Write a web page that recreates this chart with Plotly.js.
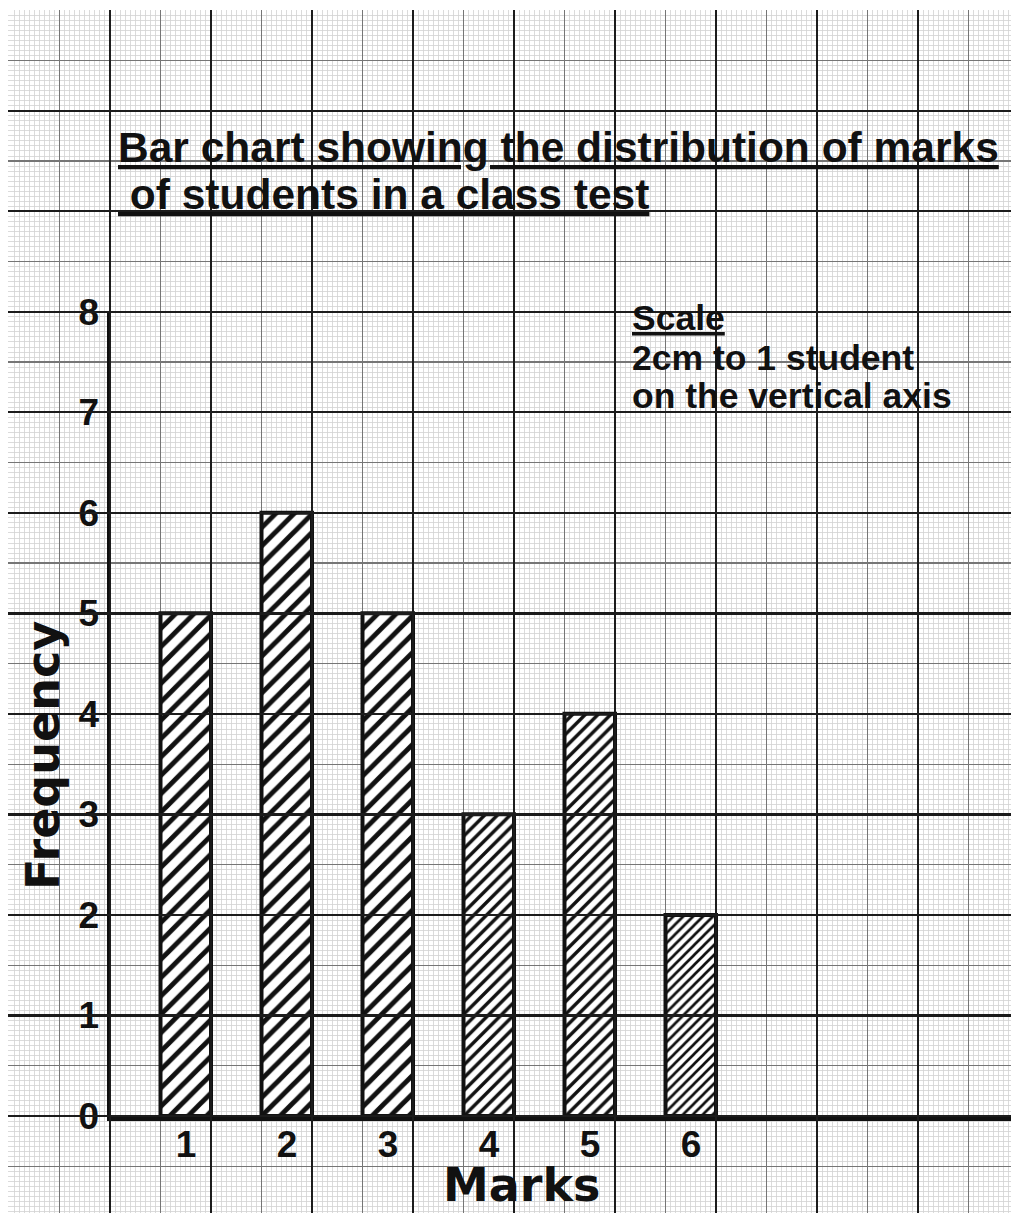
<!DOCTYPE html>
<html><head><meta charset="utf-8">
<script src="https://cdn.plot.ly/plotly-3.0.1.min.js"></script>
<style>html,body{margin:0;padding:0;background:#fff}</style>
</head><body>
<div id="chart" style="width:1011px;height:1213px"></div>
<script>
// ---- data ----
const marks = [1, 2, 3, 4, 5, 6];
const frequency = [5, 6, 5, 3, 4, 2];
const xTickLabels = ['1', '2', '3', '4', '5', '6'];
const yTickValues = [0, 1, 2, 3, 4, 5, 6, 7, 8];
const yTickLabels = ['0', '1', '2', '3', '4', '5', '6', '7', '8'];
const titleLines = ['Bar chart showing the distribution of marks', '\u00a0of students in a class test'];
const scaleLines = ['Scale', '2cm to 1 student', 'on the vertical axis'];
const xLabel = 'Marks';
const yLabel = 'Frequency';
// hatch styling per bar
const hatchSizes = [13, 13, 13, 9, 9, 7];

// ---- geometry ----
const W = 1011, H = 1213;
const originX = 110, originY = 1116, unitX = 101, unitY = 100.55;
const paperLeft = 8, paperTop = 10;
const xr = px => (px - originX) / unitX;
const yr = py => (originY - py) / unitY;
const fx = px => px / W;
const fy = py => 1 - py / H;
const yMax = Math.max(...yTickValues);

const xPaperRange = [xr(paperLeft), xr(W)];
const yPaperRange = [yr(H), yr(paperTop) + 0.003];
const xDomPaper = [fx(paperLeft), 1];
const yDomPaper = [0, fy(paperTop)];

const arial = 'Liberation Sans, Arial, sans-serif';
const dejavu = 'DejaVu Sans, sans-serif';
const ink = '#111';

const gridAxis = (dom, rng, anchor, dt, color, width, minor) => Object.assign({
  domain: dom, range: rng, anchor: anchor, showgrid: true, dtick: dt, tick0: 0,
  gridcolor: color, gridwidth: width, zeroline: false, showline: false,
  showticklabels: false, ticks: '', fixedrange: true
}, minor ? {minor: {dtick: 0.05, tick0: 0, showgrid: true, gridcolor: '#d2d2d2', gridwidth: 0.8}} : {});

const traces = [
  {type: 'scatter', x: [], y: [], xaxis: 'x', yaxis: 'y', hoverinfo: 'skip', showlegend: false},
  {
    type: 'bar', x: marks, y: frequency, xaxis: 'x2', yaxis: 'y2',
    offset: -0.5, width: 0.5, showlegend: false, hoverinfo: 'skip',
    marker: {
      color: '#ffffff',
      line: {color: ink, width: 4},
      pattern: {shape: '/', size: hatchSizes, solidity: 0.38, fgcolor: ink, bgcolor: '#ffffff', fillmode: 'replace'}
    }
  },
  {type: 'scatter', x: [], y: [], xaxis: 'x3', yaxis: 'y3', hoverinfo: 'skip', showlegend: false}
];

const tickFont = {family: arial, size: 37, color: ink, weight: 'bold'};

const ann = (text, px, py, font, extra) => Object.assign({
  text: text, xref: 'paper', yref: 'paper', x: fx(px), y: fy(py),
  xanchor: 'left', yanchor: 'middle', showarrow: false, font: font
}, extra || {});

const titleFont = {family: arial, size: 42.5, color: ink, weight: 'bold'};
const scaleFont = {family: arial, size: 35.5, color: ink, weight: 'bold'};
const labelFont = {family: dejavu, size: 46, color: ink, weight: 'bold'};

const layout = {
  width: W, height: H,
  margin: {l: 0, r: 0, t: 0, b: 0, pad: 0},
  paper_bgcolor: '#ffffff', plot_bgcolor: 'rgba(0,0,0,0)',
  showlegend: false,
  xaxis: gridAxis(xDomPaper, xPaperRange, 'y', 0.5, '#767676', 1.3, true),
  yaxis: gridAxis(yDomPaper, yPaperRange, 'x', 0.5, '#767676', 1.3, true),
  xaxis3: gridAxis(xDomPaper, xPaperRange, 'y3', 1, '#1c1c1c', 2.2, false),
  yaxis3: gridAxis(yDomPaper, yPaperRange, 'x3', 1, '#1c1c1c', 2.2, false),
  xaxis2: {
    domain: [fx(originX), 1], range: [0, xr(W)], anchor: 'y2',
    showgrid: false, zeroline: false, showline: true, linecolor: ink, linewidth: 4.5,
    tickmode: 'array', tickvals: marks, ticktext: xTickLabels, ticks: '',
    ticklabelshift: -25, ticklabelstandoff: -8, tickfont: tickFont, fixedrange: true
  },
  yaxis2: {
    domain: [fy(originY), fy(originY - yMax * unitY)], range: [0, yMax], anchor: 'x2',
    showgrid: false, zeroline: false, showline: true, linecolor: ink, linewidth: 3.5,
    tickmode: 'array', tickvals: yTickValues, ticktext: yTickLabels, ticks: '',
    ticklabelstandoff: 0, tickfont: tickFont, fixedrange: true
  },
  annotations: [
    ann('<u>' + titleLines[0] + '</u>', 116, 148, titleFont),
    ann('<u>' + titleLines[1] + '</u>', 116, 195, titleFont),
    ann('<u>' + scaleLines[0] + '</u>', 630, 318, scaleFont),
    ann(scaleLines[1], 630, 358, scaleFont),
    ann(scaleLines[2], 630, 396, scaleFont),
    ann(yLabel, 43, 756, labelFont, {xanchor: 'center', textangle: -90}),
    ann(xLabel, 521, 1185, labelFont, {xanchor: 'center'})
  ]
};

Plotly.newPlot('chart', traces, layout, {staticPlot: true, displayModeBar: false});
</script>
</body></html>
